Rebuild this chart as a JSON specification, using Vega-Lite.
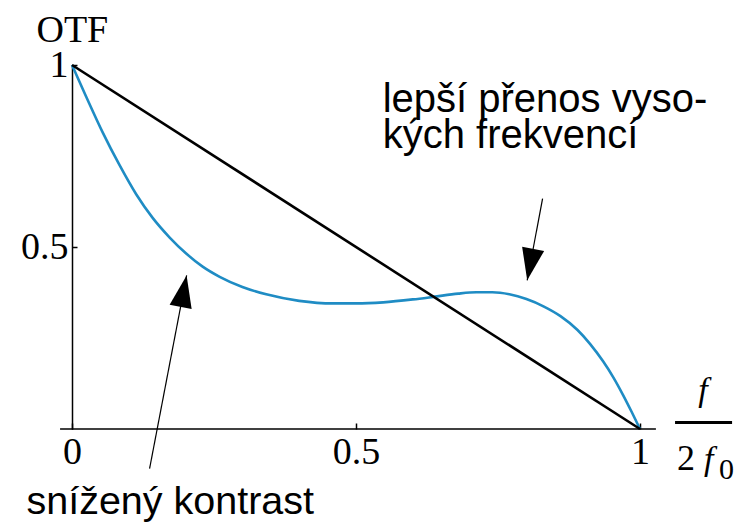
{
  "$schema": "https://vega.github.io/schema/vega-lite/v6.json",
  "autosize": "none",
  "width": 568,
  "height": 364,
  "padding": {"left": 72, "top": 65, "right": 109, "bottom": 93},
  "background": "white",
  "config": {"view": {"stroke": null}},
  "layer": [
    {
      "data": {"values": [
        {"f": 0, "otf": 1}, {"f": 0.025, "otf": 0.913}, {"f": 0.054, "otf": 0.815},
        {"f": 0.084, "otf": 0.724}, {"f": 0.113, "otf": 0.645}, {"f": 0.142, "otf": 0.58},
        {"f": 0.172, "otf": 0.526}, {"f": 0.201, "otf": 0.482}, {"f": 0.23, "otf": 0.446},
        {"f": 0.26, "otf": 0.418}, {"f": 0.3, "otf": 0.39}, {"f": 0.342, "otf": 0.37},
        {"f": 0.4, "otf": 0.352}, {"f": 0.46, "otf": 0.345}, {"f": 0.5, "otf": 0.345},
        {"f": 0.548, "otf": 0.348}, {"f": 0.6, "otf": 0.356}, {"f": 0.636, "otf": 0.363},
        {"f": 0.68, "otf": 0.372}, {"f": 0.712, "otf": 0.3755}, {"f": 0.74, "otf": 0.3755},
        {"f": 0.77, "otf": 0.37}, {"f": 0.8, "otf": 0.357}, {"f": 0.83, "otf": 0.337},
        {"f": 0.86, "otf": 0.31}, {"f": 0.89, "otf": 0.272}, {"f": 0.912, "otf": 0.234},
        {"f": 0.935, "otf": 0.186}, {"f": 0.953, "otf": 0.142}, {"f": 0.97, "otf": 0.094},
        {"f": 0.985, "otf": 0.048}, {"f": 1, "otf": 0}
      ]},
      "mark": {"type": "line", "color": "#1f8cc4", "strokeWidth": 2.6, "interpolate": "monotone"},
      "encoding": {
        "x": {"field": "f", "type": "quantitative", "scale": {"domain": [0, 1], "nice": false, "zero": false},
          "axis": {"values": [0, 0.5, 1], "format": "~g", "domain": false, "grid": false, "tickSize": -6, "tickColor": "black", "tickWidth": 1.5,
            "labelFont": "Liberation Serif", "labelFontSize": 38, "labelColor": "black", "labelPadding": 10, "labelFlush": false, "labelOverlap": false, "title": null}},
        "y": {"field": "otf", "type": "quantitative", "scale": {"domain": [0, 1], "nice": false, "zero": false},
          "axis": {"values": [0.5, 1], "format": "~g", "domain": true, "domainColor": "black", "domainWidth": 1.5, "grid": false, "tickSize": -5, "tickColor": "black", "tickWidth": 1.5,
            "labelFont": "Liberation Serif", "labelFontSize": 38, "labelColor": "black", "labelPadding": 9, "labelFlush": false, "labelOverlap": false, "title": null}}
      }
    },
    {
      "data": {"values": [{"f": 0, "otf": 1}, {"f": 1, "otf": 0}]},
      "mark": {"type": "line", "color": "black", "strokeWidth": 2.6},
      "encoding": {
        "x": {"field": "f", "type": "quantitative"},
        "y": {"field": "otf", "type": "quantitative"}
      }
    },
    {
      "data": {"values": [{"f": -0.021, "f2": 1.028, "otf": 0}]},
      "mark": {"type": "rule", "color": "black", "strokeWidth": 1.5},
      "encoding": {
        "x": {"field": "f", "type": "quantitative"},
        "x2": {"field": "f2"},
        "y": {"field": "otf", "type": "quantitative"}
      }
    },
    {
      "data": {"values": [
        {"f": 0.1366, "otf": -0.109, "f2": 0.2018, "otf2": 0.422},
        {"f": 0.8285, "otf": 0.633, "f2": 0.8014, "otf2": 0.4085}
      ]},
      "mark": {"type": "rule", "color": "black", "strokeWidth": 1.2},
      "encoding": {
        "x": {"field": "f", "type": "quantitative"},
        "x2": {"field": "f2"},
        "y": {"field": "otf", "type": "quantitative"},
        "y2": {"field": "otf2"}
      }
    },
    {
      "data": {"values": [{"f": 0.2018, "otf": 0.422}]},
      "mark": {"type": "point", "shape": "M0,0L0.7,2L-0.7,2Z", "size": 1024, "angle": 10.8, "filled": true, "color": "black", "opacity": 1, "strokeWidth": 0},
      "encoding": {
        "x": {"field": "f", "type": "quantitative"},
        "y": {"field": "otf", "type": "quantitative"}
      }
    },
    {
      "data": {"values": [{"f": 0.8014, "otf": 0.4085}]},
      "mark": {"type": "point", "shape": "M0,0L0.7,2L-0.7,2Z", "size": 1024, "angle": 190.7, "filled": true, "color": "black", "opacity": 1, "strokeWidth": 0},
      "encoding": {
        "x": {"field": "f", "type": "quantitative"},
        "y": {"field": "otf", "type": "quantitative"}
      }
    },
    {
      "data": {"values": [
        {"f": 0.547, "otf": 0.8707, "label": "lepší přenos vyso-"},
        {"f": 0.547, "otf": 0.7717, "label": "kých frekvencí"}
      ]},
      "mark": {"type": "text", "font": "Liberation Sans", "fontSize": 40, "align": "left", "baseline": "alphabetic", "color": "black"},
      "encoding": {
        "x": {"field": "f", "type": "quantitative"},
        "y": {"field": "otf", "type": "quantitative"},
        "text": {"field": "label"}
      }
    },
    {
      "data": {"values": [
        {"f": -0.0802, "otf": -0.2325, "label": "snížený kontrast"}
      ]},
      "mark": {"type": "text", "font": "Liberation Sans", "fontSize": 39.5, "align": "left", "baseline": "alphabetic", "color": "black"},
      "encoding": {
        "x": {"field": "f", "type": "quantitative"},
        "y": {"field": "otf", "type": "quantitative"},
        "text": {"field": "label"}
      }
    },
    {
      "data": {"values": [{"f": -0.0626, "otf": 1.063, "label": "OTF"}]},
      "mark": {"type": "text", "font": "Liberation Serif", "fontSize": 38, "align": "left", "baseline": "alphabetic", "color": "black"},
      "encoding": {
        "x": {"field": "f", "type": "quantitative"},
        "y": {"field": "otf", "type": "quantitative"},
        "text": {"field": "label"}
      }
    },
    {
      "data": {"values": [{"f": 1.0652, "otf": -0.114, "label": "2"}]},
      "mark": {"type": "text", "font": "Liberation Serif", "fontSize": 36, "align": "left", "baseline": "alphabetic", "color": "black"},
      "encoding": {
        "x": {"field": "f", "type": "quantitative"},
        "y": {"field": "otf", "type": "quantitative"},
        "text": {"field": "label"}
      }
    },
    {
      "data": {"values": [{"f": 1.111, "otf": 0.0757, "label": "f"}]},
      "mark": {"type": "text", "font": "Liberation Serif", "fontStyle": "italic", "fontSize": 34, "align": "center", "baseline": "alphabetic", "color": "black"},
      "encoding": {
        "x": {"field": "f", "type": "quantitative"},
        "y": {"field": "otf", "type": "quantitative"},
        "text": {"field": "label"}
      }
    },
    {
      "data": {"values": [{"f": 1.1128, "otf": -0.114, "label": "f"}]},
      "mark": {"type": "text", "font": "Liberation Serif", "fontStyle": "italic", "fontSize": 34, "align": "left", "baseline": "alphabetic", "color": "black"},
      "encoding": {
        "x": {"field": "f", "type": "quantitative"},
        "y": {"field": "otf", "type": "quantitative"},
        "text": {"field": "label"}
      }
    },
    {
      "data": {"values": [{"f": 1.139, "otf": -0.136, "label": "0"}]},
      "mark": {"type": "text", "font": "Liberation Serif", "fontSize": 30, "align": "left", "baseline": "alphabetic", "color": "black"},
      "encoding": {
        "x": {"field": "f", "type": "quantitative"},
        "y": {"field": "otf", "type": "quantitative"},
        "text": {"field": "label"}
      }
    },
    {
      "data": {"values": [{"f": 1.0617, "f2": 1.1621, "otf": 0.0179}]},
      "mark": {"type": "rule", "color": "black", "strokeWidth": 3},
      "encoding": {
        "x": {"field": "f", "type": "quantitative"},
        "x2": {"field": "f2"},
        "y": {"field": "otf", "type": "quantitative"}
      }
    }
  ]
}
